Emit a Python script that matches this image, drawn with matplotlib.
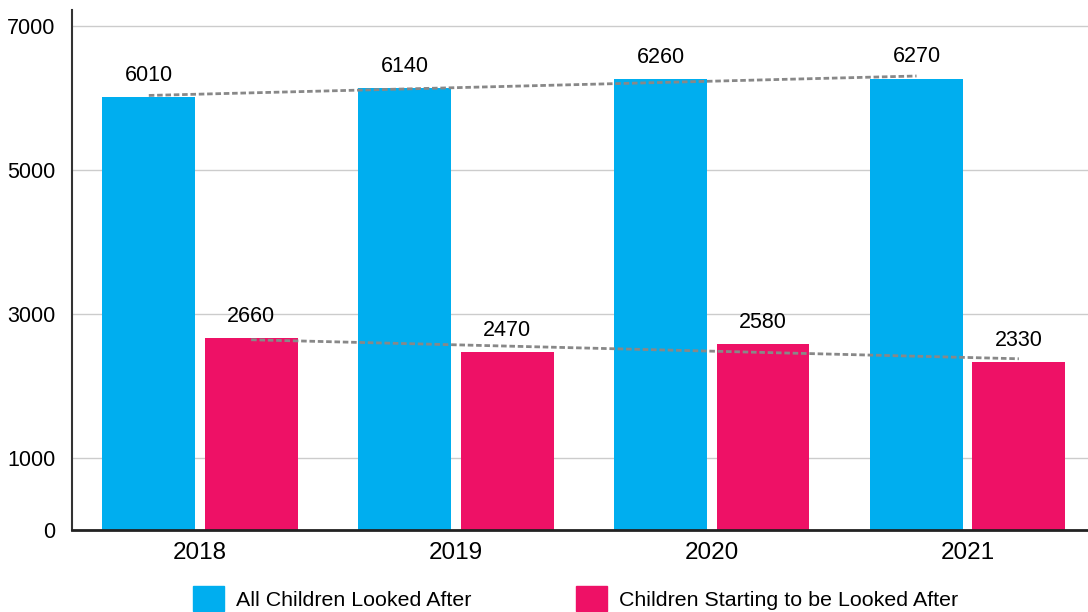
import numpy as np
import matplotlib
matplotlib.use("Agg")
import matplotlib.pyplot as plt
from matplotlib.patches import Patch

years = ["2018", "2019", "2020", "2021"]
all_looked_after = [6010, 6140, 6260, 6270]
starting_looked_after = [2660, 2470, 2580, 2330]
y_ticks = [0, 1000, 3000, 5000, 7000]

blue = "#00AEEF"
pink = "#EE1166"

plt.rcParams["font.family"] = ["Liberation Sans", "DejaVu Sans"]
plt.rcParams["font.size"] = 15.5

fig = plt.figure(figsize=(10.88, 6.12), dpi=100)
ax = fig.add_axes([0.0662, 0.134, 0.9338, 0.8497])

x = np.arange(len(years))
w = 0.363
off = 0.2

ax.bar(x - off, all_looked_after, w, color=blue, zorder=2)
ax.bar(x + off, starting_looked_after, w, color=pink, zorder=2)

# value labels
for xi, v in zip(x, all_looked_after):
    ax.annotate(str(v), (xi - off, v), xytext=(0, 8), textcoords="offset points",
                ha="center", va="bottom", fontsize=15.5)
for xi, v in zip(x, starting_looked_after):
    ax.annotate(str(v), (xi + off, v), xytext=(0, 8), textcoords="offset points",
                ha="center", va="bottom", fontsize=15.5)

# linear trend lines
for vals, shift in [(all_looked_after, -off), (starting_looked_after, off)]:
    k, b = np.polyfit(x, vals, 1)
    xs = np.array([x[0], x[-1]])
    ax.plot(xs + shift, k * xs + b, color="#888888", lw=2, ls=(0, (2, 1)), zorder=3)

ax.set_xlim(-0.5, 3.47)
ax.set_ylim(0, 7222)
ax.set_xticks(x)
ax.set_xticklabels(years, fontsize=17.5)
ax.set_yticks(y_ticks)
ax.set_yticklabels([str(t) for t in y_ticks], fontsize=15.5)
ax.tick_params(axis="both", length=0)
ax.tick_params(axis="y", pad=12)
ax.tick_params(axis="x", pad=9)
ax.grid(axis="y", color="#cccccc", lw=1, zorder=0)
ax.set_axisbelow(True)

for s in ["top", "right"]:
    ax.spines[s].set_visible(False)
ax.spines["left"].set_color("#333333")
ax.spines["left"].set_linewidth(1.5)
ax.spines["bottom"].set_color("#222222")
ax.spines["bottom"].set_linewidth(2)

handles = [Patch(color=blue, label="All Children Looked After"),
           Patch(color=pink, label="Children Starting to be Looked After")]
fig.legend(handles=handles, loc="center", bbox_to_anchor=(0.529, 0.022), ncol=2,
           frameon=False, fontsize=15.4, handlelength=1.45, handleheight=1.45,
           handletextpad=0.55, columnspacing=4.9)

fig.savefig("out.png", dpi=100)
